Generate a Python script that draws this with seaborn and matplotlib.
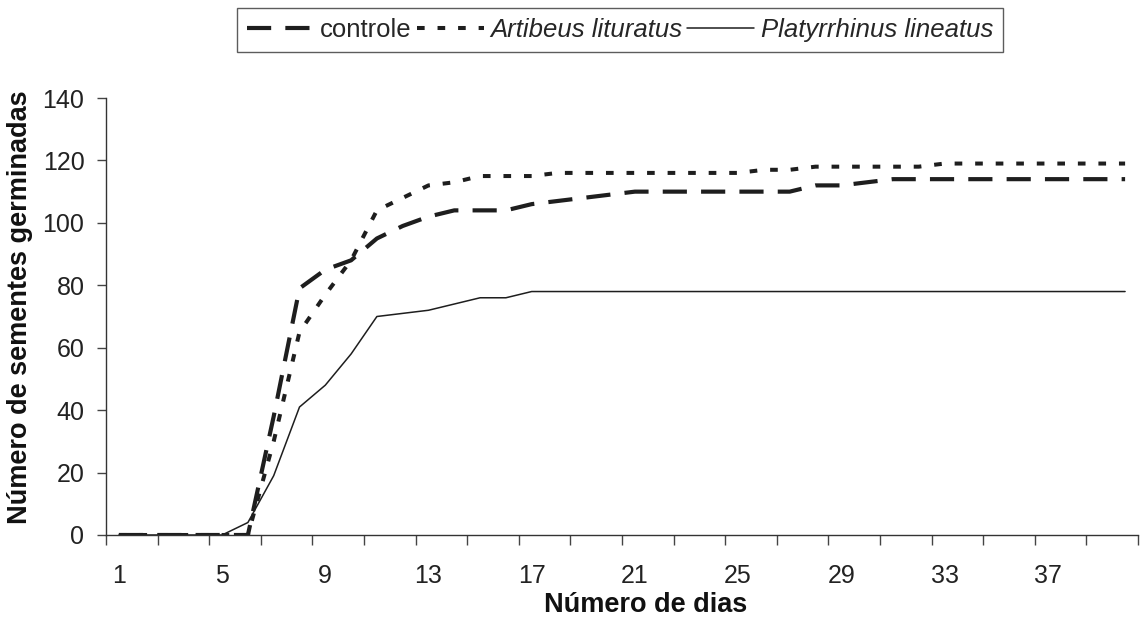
import numpy as np
import pandas as pd
import matplotlib
matplotlib.use("Agg")
import matplotlib.pyplot as plt
import seaborn as sns
from matplotlib.ticker import FixedLocator, NullFormatter, FixedFormatter

# ---- data ----
dias = list(range(1, 41))
controle = [0, 0, 0, 0, 0, 0, 38, 79, 85, 88, 95, 99, 102, 104, 104, 104, 106, 107, 108, 109,
            110, 110, 110, 110, 110, 110, 110, 112, 112, 113, 114, 114, 114, 114, 114, 114, 114, 114, 114, 114]
artibeus = [0, 0, 0, 0, 0, 0, 30, 65, 77, 88, 104, 108, 112, 113, 115, 115, 115, 116, 116, 116,
            116, 116, 116, 116, 116, 117, 117, 118, 118, 118, 118, 118, 119, 119, 119, 119, 119, 119, 119, 119]
platyrrhinus = [0, 0, 0, 0, 0, 4, 19, 41, 48, 58, 70, 71, 72, 74, 76, 76, 78, 78, 78, 78,
                78, 78, 78, 78, 78, 78, 78, 78, 78, 78, 78, 78, 78, 78, 78, 78, 78, 78, 78, 78]
series_names = ["controle", "Artibeus lituratus", "Platyrrhinus lineatus"]
xtick_labels = [1, 5, 9, 13, 17, 21, 25, 29, 33, 37]
yticks = [0, 20, 40, 60, 80, 100, 120, 140]

sns.set_style("ticks")
plt.rcParams['font.family'] = ['Liberation Sans', 'DejaVu Sans']

fig = plt.figure(figsize=(11.46, 6.3), dpi=100)
ax = fig.add_axes([106/1146, 1 - 535/630, (1138 - 106)/1146, (535 - 98)/630])

df = pd.DataFrame({"dia": dias, "controle": controle,
                   "artibeus": artibeus, "platyrrhinus": platyrrhinus})

ink = "#1e1e1e"
sns.lineplot(data=df, x="dia", y="controle", ax=ax, color=ink, linewidth=3.0,
             label=series_names[0])
sns.lineplot(data=df, x="dia", y="artibeus", ax=ax, color=ink, linewidth=2.9,
             label=series_names[1])
sns.lineplot(data=df, x="dia", y="platyrrhinus", ax=ax, color=ink, linewidth=1.1,
             label=series_names[2])
lines = ax.get_lines()
lines[0].set_dashes([5.8, 3.4])
lines[0].set_dash_capstyle("butt")
lines[1].set_dashes([1.9, 3.2])
lines[1].set_dash_capstyle("butt")

ax.set_xlim(0.5, 40.5)
ax.set_ylim(0, 140)

# y axis
ax.set_yticks(yticks)
ax.tick_params(axis="y", direction="out", length=6.5, width=1, color="#444444",
               labelsize=18, labelcolor="#222222", pad=9)

# x axis: boundary ticks every 2 days, labels every 4 days
ax.xaxis.set_major_locator(FixedLocator(np.arange(0.5, 41, 2)))
ax.xaxis.set_major_formatter(NullFormatter())
ax.xaxis.set_minor_locator(FixedLocator(xtick_labels))
ax.xaxis.set_minor_formatter(FixedFormatter([str(v) for v in xtick_labels]))
ax.tick_params(axis="x", which="major", direction="out", length=7, width=1, color="#444444")
ax.tick_params(axis="x", which="minor", length=0, labelsize=18, labelcolor="#222222", pad=21)

for s in ["top", "right"]:
    ax.spines[s].set_visible(False)
for s in ["left", "bottom"]:
    ax.spines[s].set_color("#333333")
    ax.spines[s].set_linewidth(1.0)

ax.set_xlabel("Número de dias", fontsize=19.5, fontweight="bold", color="#111111")
ax.set_ylabel("Número de sementes germinadas", fontsize=19.5, fontweight="bold", color="#111111")
ax.xaxis.set_label_coords((646 - 106) / 1032, -(605 - 535) / 437)
ax.yaxis.set_label_coords(-(106 - 20) / 1032, (535 - 307) / 437)
ax.xaxis.label.set_va("center")
ax.yaxis.label.set_va("center")

leg = ax.legend(loc="upper center", bbox_to_anchor=(620/1146, 1 - 8/630),
                bbox_transform=fig.transFigure, ncol=3, frameon=True, fancybox=False,
                edgecolor="#333333", fontsize=18.5, handlelength=2.6, handletextpad=0.25,
                columnspacing=0.2, borderpad=0.38, borderaxespad=0)
leg.get_frame().set_linewidth(1.0)
for t in leg.get_texts()[1:]:
    t.set_fontstyle("italic")

fig.savefig("out.png", dpi=100)
